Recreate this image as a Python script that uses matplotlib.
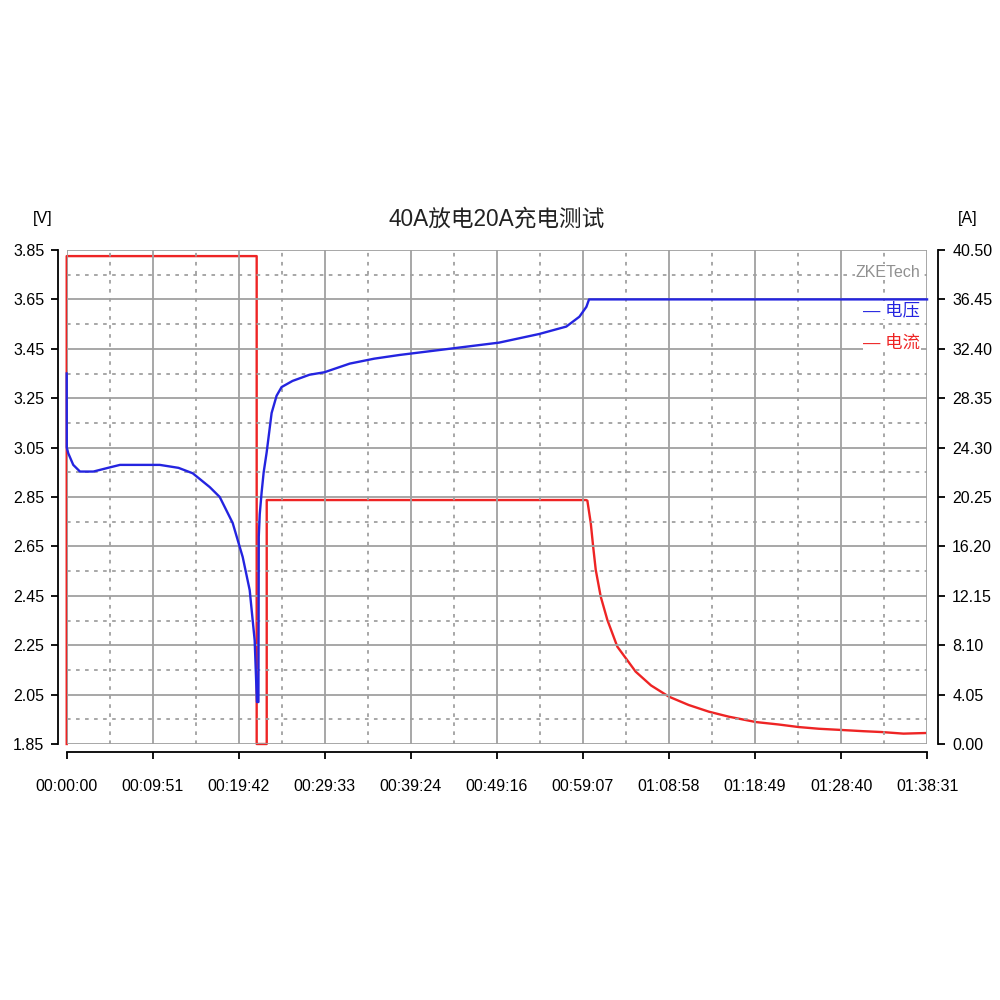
"""40A discharge / 20A charge test curve (voltage and current vs time)."""

import matplotlib

matplotlib.use("Agg")
import matplotlib.pyplot as plt
from matplotlib.ticker import FixedLocator

plt.rcParams["font.family"] = ["Liberation Sans", "Noto Sans CJK SC", "DejaVu Sans"]

# time axis (minutes), ticks every 09:51
x_tick_labels = [
    "00:00:00", "00:09:51", "00:19:42", "00:29:33", "00:39:24", "00:49:16",
    "00:59:07", "01:08:58", "01:18:49", "01:28:40", "01:38:31",
]
tick_step = 591.1 / 60.0

v_ticks = [1.85, 2.05, 2.25, 2.45, 2.65, 2.85, 3.05, 3.25, 3.45, 3.65, 3.85]
a_ticks = [0.0, 4.05, 8.10, 12.15, 16.20, 20.25, 24.30, 28.35, 32.40, 36.45, 40.50]

# voltage curve
volt_t = [
    0.0, 0.01, 0.18, 0.75, 1.52, 3.05, 4.95, 6.1, 10.66, 12.8, 14.43, 16.38,
    17.52, 19.0, 20.15, 20.95, 21.52, 21.78,
    21.95, 21.99, 22.1, 22.32, 22.55, 22.89, 23.46, 24.03, 24.6, 25.86,
    27.8, 29.5, 32.4, 35.2, 38.1, 43.8, 49.5, 54.1, 57.2, 58.7, 59.5, 59.8,
    98.5,
]
volt_v = [
    3.35, 3.05, 3.027, 2.98, 2.953, 2.953, 2.97, 2.98, 2.98, 2.968, 2.946, 2.89,
    2.85, 2.745, 2.607, 2.473, 2.27, 2.02,
    2.02, 2.69, 2.78, 2.87, 2.95, 3.03, 3.19, 3.26, 3.295, 3.32,
    3.345, 3.355, 3.39, 3.41, 3.425, 3.45, 3.475, 3.51, 3.54, 3.58, 3.62, 3.65,
    3.65,
]

# current curve
curr_t = [
    0.0, 0.0, 21.75, 21.75, 22.9, 22.9, 59.47, 59.61, 60.0, 60.27, 60.57,
    61.14, 61.9, 63.04, 65.14, 66.9, 68.95, 71.2, 73.52, 75.8, 78.9, 81.5,
    83.8, 86.1, 88.7, 91.2, 93.3, 95.8, 98.3,
]
curr_a = [
    0.0, 40.0, 40.0, 0.0, 0.0, 20.0, 20.0, 19.95, 18.1, 16.2, 14.27,
    12.08, 10.17, 7.98, 5.93, 4.8, 3.88, 3.2, 2.65, 2.24, 1.8, 1.6,
    1.39, 1.25, 1.15, 1.05, 0.98, 0.85, 0.9,
]

blue = "#2424e0"
red = "#ee2424"
grid_gray = "#a0a0a0"

fig = plt.figure(figsize=(10, 10), dpi=100)
ax = fig.add_axes([0.0667, 0.256, 0.8605, 0.494])
ax2 = ax.twinx()

x_max = tick_step * 10
ax.set_xlim(0, x_max)
ax.set_ylim(1.85, 3.85)
ax2.set_ylim(0, 40.5)

# grid: solid majors, dashed midpoints
for i in range(11):
    ax.axvline(i * tick_step, color=grid_gray, lw=1.3, zorder=0)
    ax.axhline(v_ticks[i], color=grid_gray, lw=1.3, zorder=0)
for i in range(10):
    ax.axvline((i + 0.5) * tick_step, color=grid_gray, lw=1.3,
               ls=(0, (2, 3)), zorder=0)
    ax.axhline(v_ticks[i] + 0.1, color=grid_gray, lw=1.3,
               ls=(0, (2, 3)), zorder=0)

ax2.plot(curr_t, curr_a, color=red, lw=1.7, zorder=3, clip_on=False)
ax.plot(volt_t, volt_v, color=blue, lw=1.7, zorder=7, clip_on=False)
ax.set_zorder(ax2.get_zorder() + 1)
ax.patch.set_visible(False)

for a in (ax, ax2):
    a.spines["top"].set_visible(False)
ax2.spines["left"].set_visible(False)
ax2.spines["bottom"].set_visible(False)
ax.spines["right"].set_visible(False)
ax.spines["left"].set_position(("outward", 6))
ax.spines["bottom"].set_position(("outward", 6))
ax2.spines["right"].set_position(("outward", 8))
for name in ("left", "bottom"):
    ax.spines[name].set_linewidth(1.3)
ax2.spines["right"].set_linewidth(1.3)

ax.xaxis.set_major_locator(FixedLocator([i * tick_step for i in range(11)]))
ax.set_xticklabels(x_tick_labels)
ax.yaxis.set_major_locator(FixedLocator(v_ticks))
ax.set_yticklabels([f"{v:.2f}" for v in v_ticks])
ax2.yaxis.set_major_locator(FixedLocator(a_ticks))
ax2.set_yticklabels([f"{v:.2f}" for v in a_ticks])
ax.tick_params(axis="both", labelsize=11.5, length=5, width=1.3, pad=5)
ax2.tick_params(axis="y", labelsize=11.5, length=5, width=1.3, pad=5)
ax.tick_params(axis="x", pad=14)

ax.set_title("40A放电20A充电测试", fontsize=16.3, pad=18, color="#222222")
fig.text(0.033, 0.782, "[V]", fontsize=11.5, ha="left", va="center")
fig.text(0.958, 0.782, "[A]", fontsize=11.5, ha="left", va="center")

# legend block inside the plot
box = dict(facecolor="white", edgecolor="none", pad=0.5)
ax.text(0.992, 0.955, "ZKETech", transform=ax.transAxes, color="#909090",
        fontsize=11.5, ha="right", va="center", bbox=box, zorder=6)
ax.text(0.992, 0.879, "— 电压", transform=ax.transAxes, color=blue,
        fontsize=12.5, ha="right", va="center", bbox=box, zorder=6)
ax.text(0.992, 0.812, "— 电流", transform=ax.transAxes, color=red,
        fontsize=12.5, ha="right", va="center", bbox=box, zorder=6)

fig.savefig("out.png", dpi=100)
